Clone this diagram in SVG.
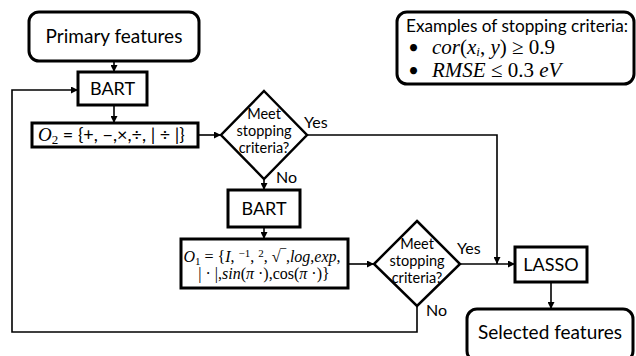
<svg xmlns="http://www.w3.org/2000/svg" width="636" height="356" viewBox="0 0 636 356">
<style>
.box{fill:#fff;stroke:#000;stroke-width:3}
.dia{fill:#fff;stroke:#000;stroke-width:2.5}
.lbl{font-family:Lato,"Liberation Sans",sans-serif;fill:#000;text-anchor:middle}
.big{font-size:19px}
.mid{font-size:18px}
.sm{font-size:14.5px}
.yn{font-family:Lato,"Liberation Sans",sans-serif;font-size:16px;fill:#000}
.math{font-family:"Liberation Serif","DejaVu Serif",serif;fill:#000}
.it{font-style:italic}
.con{fill:none;stroke:#000;stroke-width:1.6}
</style>
<defs>
<marker id="ah" viewBox="0 0 10 10" refX="10" refY="5" markerWidth="7" markerHeight="7" markerUnits="userSpaceOnUse" orient="auto">
<path d="M0,0 L10,5 L0,10 z" fill="#000"/>
</marker>
</defs>
<g id="connectors">
<path class="con" d="M114,61 V72" marker-end="url(#ah)"/>
<path class="con" d="M114,105 V123" marker-end="url(#ah)"/>
<path class="con" d="M198,135 H221" marker-end="url(#ah)"/>
<path class="con" d="M307,135 H497 V264" marker-end="url(#ah)"/>
<path class="con" d="M264,179 V190" marker-end="url(#ah)"/>
<path class="con" d="M264,227 V239" marker-end="url(#ah)"/>
<path class="con" d="M348,264 H374" marker-end="url(#ah)"/>
<path class="con" d="M460,264 H515" marker-end="url(#ah)"/>
<path class="con" d="M551,282 V309" marker-end="url(#ah)"/>
<path class="con" d="M417,306 V332 H12 V90 H78" marker-end="url(#ah)"/>
</g>
<g id="primary">
<rect class="box" x="29" y="12" width="170" height="49" rx="10"/>
<text class="lbl big" x="114" y="43">Primary features</text>
</g>
<g id="bart1">
<rect class="box" x="78" y="72" width="69" height="33"/>
<text class="lbl mid" x="112.5" y="95">BART</text>
</g>
<g id="o2">
<rect class="box" x="32" y="123" width="166" height="24"/>
<text x="38" y="141"><tspan class="math it" style="font-size:19px">O</tspan><tspan class="math" style="font-size:13px" dy="3">2</tspan><tspan class="yn" style="font-size:18px" dy="-3">  = {+, −,×,÷, | ÷ |}</tspan></text>
</g>
<g id="decision1">
<polygon class="dia" points="264,91 307,135 264,179 221,135"/>
<text class="lbl sm" x="264" y="119">Meet</text>
<text class="lbl sm" x="264" y="136">stopping</text>
<text class="lbl sm" x="264" y="153">criteria?</text>
<text class="yn" x="304" y="128">Yes</text>
<text class="yn" x="276" y="183">No</text>
</g>
<g id="bart2">
<rect class="box" x="228" y="190" width="72" height="37"/>
<text class="lbl mid" x="264" y="215">BART</text>
</g>
<g id="o1">
<rect class="box" x="181" y="239" width="167" height="49"/>
<text class="math" x="262" y="262" style="font-size:16px" text-anchor="middle"><tspan class="it">O</tspan><tspan style="font-size:11px" dy="3">1</tspan><tspan dy="-3"> = {</tspan><tspan class="it">I</tspan><tspan>, </tspan><tspan style="font-size:11px" dy="-5">−1</tspan><tspan dy="5">, </tspan><tspan style="font-size:11px" dy="-5">2</tspan><tspan dy="5">, √‾,</tspan><tspan class="it">log</tspan><tspan>,</tspan><tspan class="it">exp</tspan><tspan>,</tspan></text>
<text class="math" x="264" y="279" style="font-size:16px" text-anchor="middle"><tspan>| · |,</tspan><tspan class="it">sin</tspan><tspan>(</tspan><tspan class="it">π</tspan><tspan> ·),cos(</tspan><tspan class="it">π</tspan><tspan> ·)}</tspan></text>
</g>
<g id="decision2">
<polygon class="dia" points="417,221 460,264 417,306 374,264"/>
<text class="lbl sm" x="417" y="249">Meet</text>
<text class="lbl sm" x="417" y="266">stopping</text>
<text class="lbl sm" x="417" y="283">criteria?</text>
<text class="yn" x="457" y="254">Yes</text>
<text class="yn" x="426" y="316">No</text>
</g>
<g id="lasso">
<rect class="box" x="515" y="247" width="72" height="35"/>
<text class="lbl mid" x="551" y="271">LASSO</text>
</g>
<g id="selected">
<rect class="box" x="467" y="309" width="166" height="52" rx="10"/>
<text class="lbl big" x="550" y="339">Selected features</text>
</g>
<g id="examples">
<rect class="box" x="397" y="12" width="237" height="72" rx="10"/>
<text class="yn" x="406" y="32" style="font-size:17.5px" textLength="222" lengthAdjust="spacingAndGlyphs">Examples of stopping criteria:</text>
<text class="yn" x="408" y="54" style="font-size:19px">•</text>
<text class="math" x="432" y="54" style="font-size:21px"><tspan class="it">cor</tspan><tspan>(</tspan><tspan class="it">x</tspan><tspan class="it" style="font-size:13px" dy="2">i</tspan><tspan dy="-2">, </tspan><tspan class="it">y</tspan><tspan>) ≥ 0.9</tspan></text>
<text class="yn" x="408" y="77" style="font-size:19px">•</text>
<text class="math" x="432" y="77" style="font-size:21px"><tspan class="it">RMSE</tspan><tspan> ≤ 0.3 </tspan><tspan class="it">eV</tspan></text>
</g>
</svg>
